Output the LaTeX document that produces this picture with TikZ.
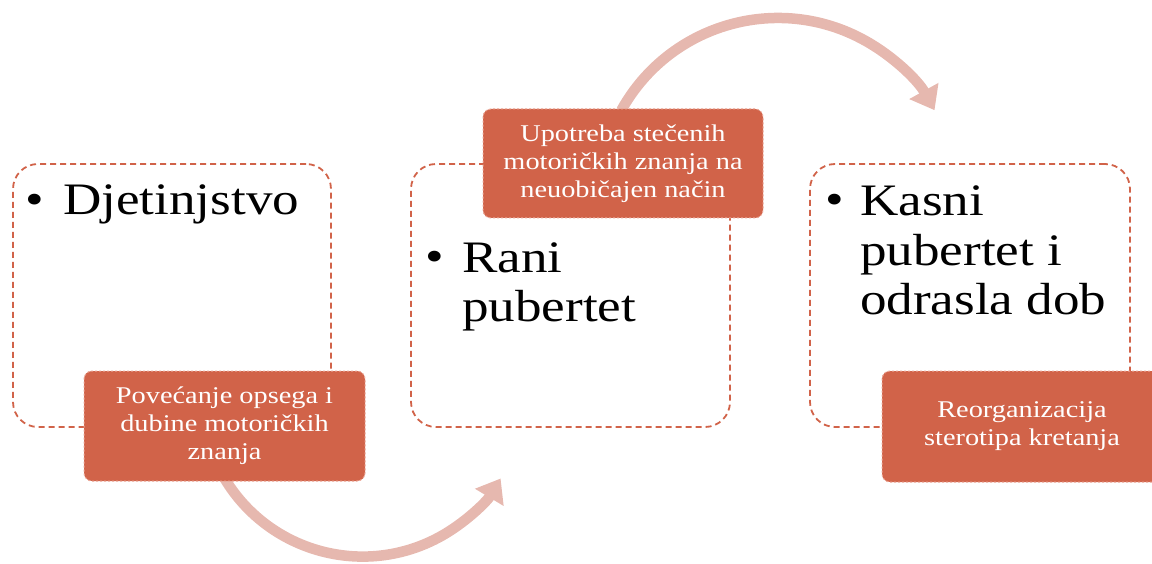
\documentclass[tikz,border=0pt]{standalone}
\usepackage{fontspec}
\setmainfont[FakeStretch=1.18]{Liberation Serif}
\usetikzlibrary{arrows.meta}
\definecolor{accent}{HTML}{D16349}
\definecolor{arcc}{HTML}{E6B8AF}
\definecolor{edgec}{HTML}{EBA595}
\begin{document}
\begin{tikzpicture}[x=1pt,y=-1pt,
  stage/.style={draw=accent, line width=1.8pt, dash pattern=on 6pt off 4pt, rounded corners=25pt, inner sep=0pt, fill=none},
  tag/.style={fill=accent, draw=edgec, line width=1pt, dash pattern=on 2pt off 2pt, rounded corners=8pt, inner sep=0pt, text=white, align=center, font=\fontsize{24}{28}\selectfont},
  big/.style={anchor=base west, inner sep=0pt, align=left, font=\fontsize{45}{50}\selectfont},
  bul/.style={anchor=base, inner sep=0pt, font=\fontsize{45}{50}\selectfont},
  flow/.style={draw=arcc, line width=10.5pt, -{Triangle[length=22pt,width=32pt]}}
]
\useasboundingbox (0,0) rectangle (1152,564);
\clip (0,0) rectangle (1152,564);
% arcs
\coordinate (a1s) at (224.6,478.5);
\draw[flow] (a1s) arc[start angle=149, end angle=31, radius=161];
\coordinate (a2s) at (621.4,110.2);
\draw[flow] (a2s) arc[start angle=209, end angle=331, radius=179];
% stage boxes
\node[stage, minimum width=318pt, minimum height=263pt] (s1) at (172,295.5) {};
\node[stage, minimum width=319pt, minimum height=263pt] (s2) at (570.5,295.5) {};
\node[stage, minimum width=320pt, minimum height=263pt] (s3) at (970,295.5) {};
% texts (multi-line nodes are anchored at their last baseline)
\node[bul] (b1) at (35,215) {•};
\node[big] (t1) at (63,215) {Djetinjstvo};
\node[bul] (b2) at (435,272) {•};
\node[big] (t2) at (462,322) {Rani\\pubertet};
\node[bul] (b3) at (835,215) {•};
\node[big] (t3) at (860,315) {Kasni\\pubertet i\\odrasla dob};
% tags
\node[tag, minimum width=281pt, minimum height=110pt] (g1) at (224.5,426) {Povećanje opsega i\\dubine motoričkih\\znanja};
\node[tag, minimum width=280pt, minimum height=109pt] (g2) at (623,163.5) {Upotreba stečenih\\motoričkih znanja na\\neuobičajen način};
\node[tag, minimum width=280pt, minimum height=111pt] (g3) at (1022,426.5) {Reorganizacija\\sterotipa kretanja};
\end{tikzpicture}
\end{document}
